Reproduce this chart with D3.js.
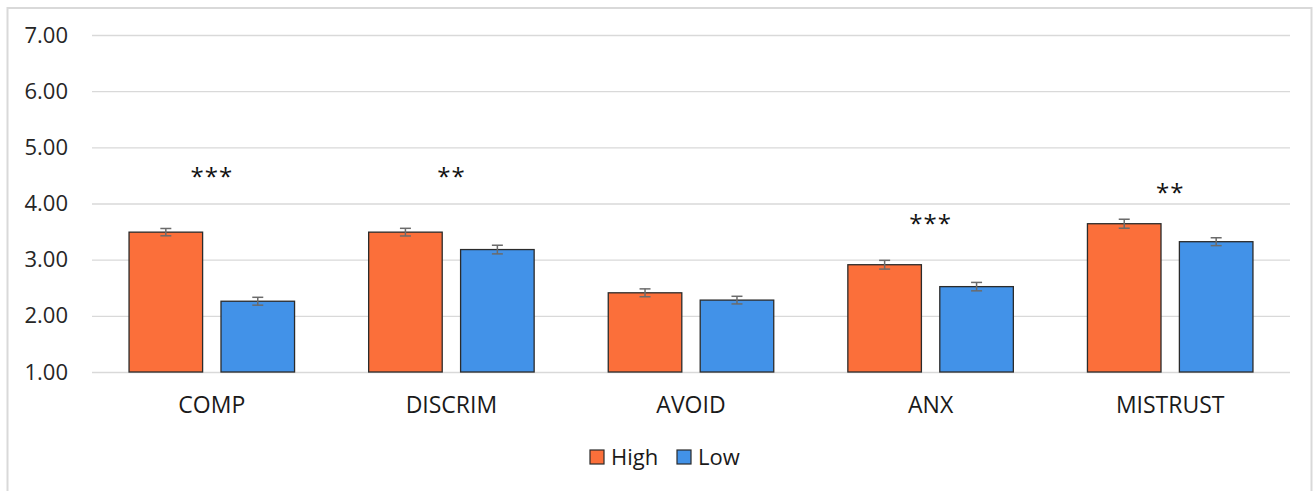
<!DOCTYPE html>
<html>
<head>
<meta charset="utf-8">
<script src="https://cdn.jsdelivr.net/npm/d3@7"></script>
<style>
  html, body { margin: 0; padding: 0; background: #fff; }
  svg { display: block; }
  text { font-family: "Open Sans", "Noto Sans", sans-serif; }
</style>
</head>
<body>
<svg id="chart" width="1313" height="491"></svg>
<script>
const categories = ["COMP", "DISCRIM", "AVOID", "ANX", "MISTRUST"];
const series = ["High", "Low"];
const highValues = [3.49, 3.49, 2.41, 2.91, 3.64];
const lowValues = [2.26, 3.18, 2.28, 2.52, 3.32];
const highErrors = [0.065, 0.068, 0.07, 0.078, 0.08];
const lowErrors = [0.07, 0.077, 0.068, 0.075, 0.07];
const sigLabels = ["***", "**", "", "***", "**"];
const sigHeights = [4.54, 4.54, null, 3.70, 4.26];
const yTicks = [1, 2, 3, 4, 5, 6, 7];
const colors = { High: "#FB6F3A", Low: "#4292E8" };

const svg = d3.select("#chart");

// chart border
svg.append("rect").attr("x", 7.5).attr("y", 8).attr("width", 1304).attr("height", 500)
  .attr("fill", "#fff").attr("stroke", "#d9d9d9").attr("stroke-width", 2);

const x0 = d3.scaleBand().domain(categories).range([92, 1290]).padding(0);
const y = d3.scaleLinear().domain([1, 7]).range([372, 35]);
const groupW = 165.5;
const x1 = d3.scaleBand().domain(series).range([0, groupW]).paddingInner(0.2).paddingOuter(0);

// gridlines + tick labels
const yAxis = d3.axisLeft(y).tickValues(yTicks).tickFormat(d3.format(".2f"))
  .tickSize(-(1290 - 92)).tickPadding(24);
const gAxis = svg.append("g").attr("transform", "translate(92,0)").call(yAxis);
gAxis.select(".domain").remove();
gAxis.selectAll(".tick line").attr("stroke", "#d9d9d9").attr("stroke-width", 1.3);
gAxis.selectAll(".tick text").attr("fill", "#262626").attr("font-size", 22)
  .attr("font-family", "'Open Sans', sans-serif");

const data = categories.map((c, i) => ({
  cat: c,
  vals: [
    { s: "High", v: highValues[i], e: highErrors[i] },
    { s: "Low", v: lowValues[i], e: lowErrors[i] }
  ]
}));

const groups = svg.append("g").selectAll("g").data(data).join("g")
  .attr("transform", d => `translate(${x0(d.cat) + x0.bandwidth() / 2 - groupW / 2},0)`);

groups.selectAll("rect").data(d => d.vals).join("rect")
  .attr("x", d => x1(d.s))
  .attr("y", d => y(d.v))
  .attr("width", x1.bandwidth())
  .attr("height", d => y(1) - y(d.v))
  .attr("fill", d => colors[d.s])
  .attr("stroke", "#2b2b2b").attr("stroke-width", 1.3);

// error bars
const eb = groups.selectAll("g.err").data(d => d.vals).join("g").attr("class", "err");
const cap = 5.5;
const cx = d => x1(d.s) + x1.bandwidth() / 2;
eb.append("line")
  .attr("x1", cx).attr("x2", cx)
  .attr("y1", d => y(d.v + d.e)).attr("y2", d => y(d.v - d.e))
  .attr("stroke", "#6b6b6b").attr("stroke-width", 1.5);
eb.append("line")
  .attr("x1", d => cx(d) - cap).attr("x2", d => cx(d) + cap)
  .attr("y1", d => y(d.v + d.e)).attr("y2", d => y(d.v + d.e))
  .attr("stroke", "#6b6b6b").attr("stroke-width", 1.5);
eb.append("line")
  .attr("x1", d => cx(d) - cap).attr("x2", d => cx(d) + cap)
  .attr("y1", d => y(d.v - d.e)).attr("y2", d => y(d.v - d.e))
  .attr("stroke", "#6b6b6b").attr("stroke-width", 1.5);

// significance stars
svg.append("g").selectAll("text")
  .data(categories.map((c, i) => ({ c, t: sigLabels[i], h: sigHeights[i] })).filter(d => d.t))
  .join("text")
  .attr("x", d => x0(d.c) + x0.bandwidth() / 2)
  .attr("y", d => y(d.h) + 12)
  .attr("text-anchor", "middle")
  .attr("font-size", 24)
  .attr("letter-spacing", 1)
  .attr("fill", "#111")
  .text(d => d.t);

// category labels
svg.append("g").selectAll("text").data(categories).join("text")
  .attr("x", d => x0(d) + x0.bandwidth() / 2)
  .attr("y", 413)
  .attr("text-anchor", "middle")
  .attr("font-size", 23)
  .attr("fill", "#1a1a1a")
  .text(d => d);

// legend
const legendItems = [{ s: "High", x: 590 }, { s: "Low", x: 677 }];
const lg = svg.append("g").selectAll("g").data(legendItems).join("g")
  .attr("transform", d => `translate(${d.x},0)`);
lg.append("rect").attr("x", 0).attr("y", 450).attr("width", 14).attr("height", 14)
  .attr("fill", d => colors[d.s]).attr("stroke", "#2b2b2b").attr("stroke-width", 1.2);
lg.append("text").attr("x", 21).attr("y", 465)
  .attr("font-size", 22).attr("fill", "#1a1a1a").text(d => d.s);
</script>
</body>
</html>
